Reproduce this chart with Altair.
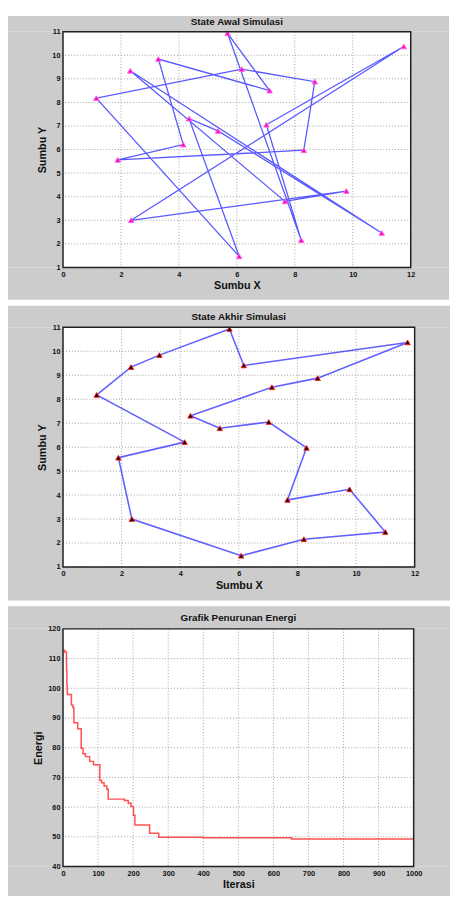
import altair as alt
import pandas as pd

# ---------------- data ----------------
city_x = [5.68, 6.17, 11.76, 8.69, 7.13, 4.35, 5.35, 7.02, 8.31, 7.66,
          9.78, 11.00, 8.22, 6.08, 2.35, 1.89, 4.15, 1.15, 2.32, 3.29]
city_y = [10.93, 9.41, 10.37, 8.88, 8.50, 7.31, 6.79, 7.05, 5.97, 3.80,
          4.24, 2.46, 2.16, 1.47, 3.00, 5.56, 6.21, 8.18, 9.34, 9.84]
initial_order = [0, 4, 19, 16, 15, 8, 3, 1, 17, 13, 5, 6, 11, 18, 9, 10, 14, 2, 7, 12, 0]
final_order = [0, 1, 2, 3, 4, 5, 6, 7, 8, 9, 10, 11, 12, 13, 14, 15, 16, 17, 18, 19, 0]

iterations = [0, 5, 10, 11, 12, 13, 24, 28, 31, 42, 52, 57, 64, 76, 87, 105, 110,
              117, 125, 129, 175, 186, 194, 201, 205, 247, 273, 400, 652, 1000]
energy = [112.8, 112.2, 106.0, 101.0, 98.5, 97.9, 94.4, 93.5, 88.4, 86.4, 79.8, 78.0,
          77.0, 75.4, 74.3, 69.0, 68.2, 67.1, 66.0, 62.7, 62.2, 61.3, 60.2, 57.3,
          54.0, 51.2, 49.9, 49.7, 49.3, 49.3]

xy_x_ticks = [0, 2, 4, 6, 8, 10, 12]
xy_y_ticks = [1, 2, 3, 4, 5, 6, 7, 8, 9, 10, 11]
it_ticks = [0, 100, 200, 300, 400, 500, 600, 700, 800, 900, 1000]
en_ticks = [40, 50, 60, 70, 80, 90, 100, 110, 120]

titles = ["State Awal Simulasi", "State Akhir Simulasi", "Grafik Penurunan Energi"]

FONT = "Liberation Sans"
GREY = "#cccccc"
INK = "#111111"


def make_axis(values, title, title_pad, label_pad):
    return alt.Axis(values=values, title=title, grid=False, ticks=False, domain=False,
                    format="d",
                    labelFont=FONT, labelFontWeight="bold", labelFontSize=7.5,
                    labelColor=INK, labelPadding=label_pad, labelFlush=False,
                    labelOverlap=False, titleFont=FONT, titleFontWeight="bold",
                    titleFontSize=11, titleColor=INK, titlePadding=title_pad, zindex=1)


def frame_layers(W, H, L, R, T, B, ttl, ttl_y):
    base = alt.Chart(pd.DataFrame({"t": [ttl]}))
    boxes = [(-L, W + R, -T, 0), (-L, W + R, H, H + B), (-L, 0, 0, H), (W, W + R, 0, H)]
    out = []
    for x1, x2, y1, y2 in boxes:
        out.append(base.mark_rect(color=GREY, strokeWidth=0).encode(
            x=alt.value(x1), x2=alt.value(x2), y=alt.value(y1), y2=alt.value(y2)))
    border = base.mark_rect(fill="transparent", stroke="#222222", strokeWidth=1.5).encode(
        x=alt.value(0), x2=alt.value(W), y=alt.value(0), y2=alt.value(H))
    text = base.mark_text(font=FONT, fontSize=10, fontWeight="bold", color=INK,
                          align="center", baseline="middle").encode(
        text="t:N", x=alt.value(W / 2), y=alt.value(ttl_y))
    return out, border, text


def grid_layers(X, Y, xt, yt):
    gx = alt.Chart(pd.DataFrame({"x": xt})).mark_rule(
        color="#8a8a8a", strokeWidth=0.8, strokeDash=[1, 2]).encode(x=X)
    gy = alt.Chart(pd.DataFrame({"y": yt})).mark_rule(
        color="#8a8a8a", strokeWidth=0.8, strokeDash=[1, 2]).encode(y=Y)
    return gx, gy


def xy_panel(order, ttl, W, H, L, R, T, B, line_color, line_w, pfill, pstroke):
    df = pd.DataFrame({"step": list(range(len(order))),
                       "x": [city_x[i] for i in order],
                       "y": [city_y[i] for i in order]})
    X = alt.X("x:Q", scale=alt.Scale(domain=[0, 12], nice=False, zero=False),
              axis=make_axis(xy_x_ticks, "Sumbu X", 2, 3))
    Y = alt.Y("y:Q", scale=alt.Scale(domain=[1, 11], nice=False, zero=False),
              axis=make_axis(xy_y_ticks, "Sumbu Y", 4, 3))
    strips, border, text = frame_layers(W, H, L, R, T, B, ttl, -10)
    gx, gy = grid_layers(X, Y, xy_x_ticks, xy_y_ticks)
    line = alt.Chart(df).mark_line(color=line_color, strokeWidth=line_w, opacity=0.8).encode(
        x=X, y=Y, order="step:Q")
    pts = alt.Chart(df.iloc[:-1]).mark_point(shape="triangle-up", fill=pfill, stroke=pstroke,
                                             strokeWidth=1, size=30, opacity=1).encode(x=X, y=Y)
    return alt.layer(*strips, gx, gy, line, pts, border, text).properties(width=W, height=H)


def energy_panel(ttl, W, H, L, R, T, B):
    df = pd.DataFrame({"x": iterations, "y": energy})
    X = alt.X("x:Q", scale=alt.Scale(domain=[0, 1000], nice=False, zero=False),
              axis=make_axis(it_ticks, "Iterasi", 2, 3))
    Y = alt.Y("y:Q", scale=alt.Scale(domain=[40, 120], nice=False, zero=False),
              axis=make_axis(en_ticks, "Energi", 4, 3))
    strips, border, text = frame_layers(W, H, L, R, T, B, ttl, -11)
    gx, gy = grid_layers(X, Y, it_ticks, en_ticks)
    line = alt.Chart(df).mark_line(color="#ff3333", strokeWidth=1.5, opacity=0.85,
                                   interpolate="step-after").encode(x=X, y=Y)
    return alt.layer(*strips, gx, gy, line, border, text).properties(width=W, height=H)


p1 = xy_panel(initial_order, titles[0], 354, 240, 56, 39, 16, 33,
              "#3030ff", 1.3, "#ff00cc", "#ff66dd")
p2 = xy_panel(final_order, titles[1], 358, 244, 56, 36, 22, 34,
              "#3a3aff", 1.6, "#000000", "#ff2020")
p3 = energy_panel(titles[2], 357, 242, 56, 37, 23, 30)

chart = alt.vconcat(p1, p2, p3, spacing=6, padding=0).configure(
    background="white").configure_view(strokeWidth=0, fill="white")

chart.save("out.html", embed_options={"renderer": "svg", "actions": False})
